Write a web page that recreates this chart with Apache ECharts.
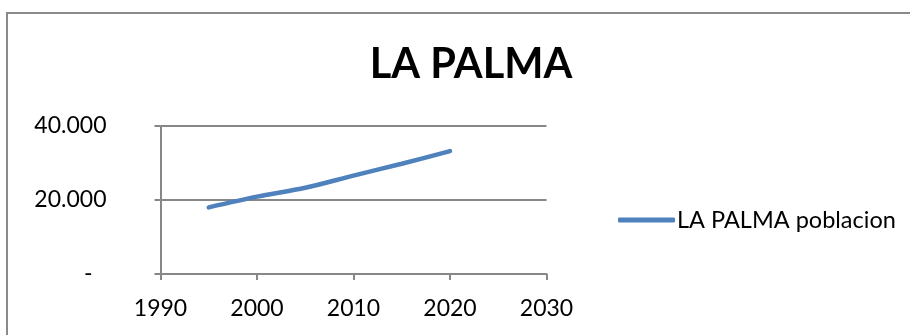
<!DOCTYPE html>
<html>
<head>
<meta charset="utf-8">
<script src="https://cdn.jsdelivr.net/npm/echarts@6/dist/echarts.min.js"></script>
<style>
  html, body { margin: 0; padding: 0; background: #fff; }
  #chart { width: 910px; height: 335px; }
</style>
</head>
<body>
<div id="chart"></div>
<script>
// Population of La Palma by year
const years = [1995, 2000, 2005, 2010, 2015, 2020];
const population = [18000, 20900, 23300, 26600, 29800, 33200];
const seriesName = 'LA PALMA poblacion';
const titleText = 'LA PALMA';

const FONT = 'Lato, "Open Sans", sans-serif';
const AXIS_GREY = '#878787';

// Accounting-style labels: dot thousands separator, a dash for zero
function formatThousands(v) {
  if (v === 0) return '{dash|-}';
  return String(v).replace(/\B(?=(\d{3})+(?!\d))/g, '.');
}

const chart = echarts.init(document.getElementById('chart'), null, { renderer: 'canvas' });
chart.setOption({
  animation: false,
  backgroundColor: '#fff',
  title: {
    text: titleText,
    left: 466,
    textAlign: 'center',
    top: 39,
    textStyle: { fontFamily: FONT, fontWeight: 'bold', fontSize: 41.5, color: '#000' }
  },
  legend: {
    data: [{ name: seriesName, icon: 'roundRect' }],
    left: 613,
    top: 203,
    itemWidth: 57,
    itemHeight: 5,
    itemGap: 4,
    textStyle: { fontFamily: FONT, fontSize: 23.5, color: '#000', padding: [0, 0, 0, -3] }
  },
  grid: { left: 160.5, right: 363.5, top: 126, bottom: 61, containLabel: false },
  xAxis: {
    type: 'value',
    min: 1990,
    max: 2030,
    interval: 10,
    axisLine: { show: true, lineStyle: { color: AXIS_GREY, width: 2 } },
    axisTick: { show: true, length: 6, lineStyle: { color: AXIS_GREY, width: 2 } },
    splitLine: { show: false },
    axisLabel: { fontFamily: FONT, fontSize: 23, color: '#000', margin: 23, formatter: v => String(v) }
  },
  yAxis: {
    type: 'value',
    min: 0,
    max: 40000,
    interval: 20000,
    axisLine: { show: true, lineStyle: { color: AXIS_GREY, width: 2 } },
    axisTick: { show: true, length: 6, lineStyle: { color: AXIS_GREY, width: 2 } },
    splitLine: { show: true, lineStyle: { color: AXIS_GREY, width: 2 } },
    axisLabel: {
      fontFamily: FONT, fontSize: 23, color: '#000', margin: 54,
      formatter: formatThousands,
      rich: { dash: { fontFamily: FONT, fontSize: 23, color: '#000', padding: [0, 14, 0, 0] } }
    }
  },
  series: [{
    name: seriesName,
    type: 'line',
    smooth: 0.3,
    symbol: 'none',
    data: years.map((y, i) => [y, population[i]]),
    lineStyle: { color: '#4F81BD', width: 4.5, cap: 'round' },
    itemStyle: { color: '#4F81BD' }
  }],
  graphic: [{
    type: 'rect',
    shape: { x: 7, y: 13, width: 920, height: 340 },
    style: { fill: null, stroke: '#8a8a8a', lineWidth: 2 },
    silent: true
  }]
});
</script>
</body>
</html>
